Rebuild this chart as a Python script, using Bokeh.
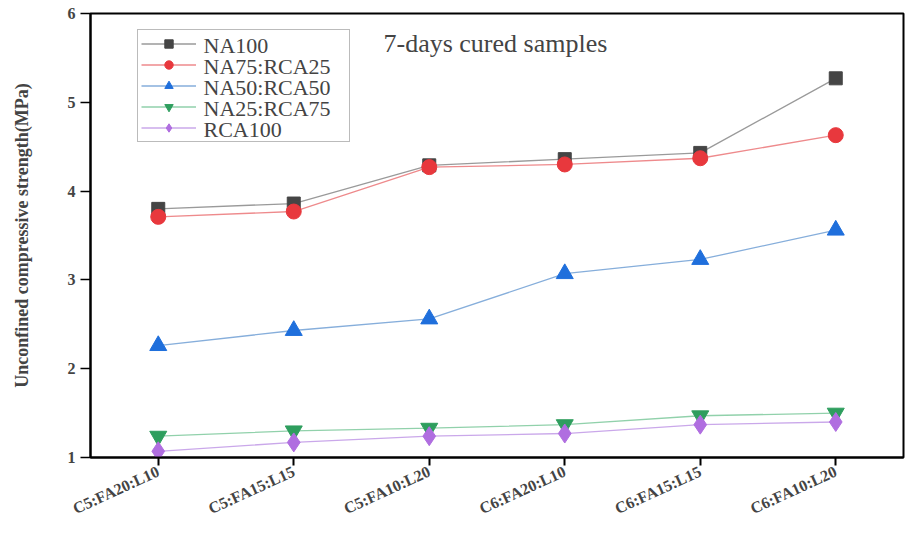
from bokeh.plotting import figure
from bokeh.models import FactorRange, Range1d, Legend, LegendItem, Label, FixedTicker
from bokeh.embed import file_html
from bokeh.resources import INLINE

categories = ["C5:FA20:L10", "C5:FA15:L15", "C5:FA10:L20", "C6:FA20:L10", "C6:FA15:L15", "C6:FA10:L20"]
na100 = [3.80, 3.86, 4.29, 4.36, 4.43, 5.27]
na75_rca25 = [3.71, 3.77, 4.27, 4.30, 4.37, 4.63]
na50_rca50 = [2.26, 2.43, 2.56, 3.07, 3.23, 3.56]
na25_rca75 = [1.24, 1.30, 1.33, 1.37, 1.47, 1.50]
rca100 = [1.07, 1.17, 1.24, 1.27, 1.37, 1.40]
series_names = ["NA100", "NA75:RCA25", "NA50:RCA50", "NA25:RCA75", "RCA100"]
y_ticks = [1, 2, 3, 4, 5, 6]

W, H = 906, 527
B_LEFT, B_RIGHT, B_TOP, B_BOTTOM = 90, 3, 13, 68
FRAME_H = H - B_TOP - B_BOTTOM

p = figure(width=W, height=H, x_range=FactorRange(*categories), y_range=Range1d(1, 6),
           output_backend="svg", toolbar_location=None,
           min_border_left=B_LEFT, min_border_right=B_RIGHT, min_border_top=B_TOP, min_border_bottom=B_BOTTOM)
p.xgrid.visible = False
p.ygrid.visible = False
p.outline_line_color = "black"
p.outline_line_width = 2

styles = [
    (na100, "square", "#454545", "#9a9a9a", 13),
    (na75_rca25, "circle", "#e8383d", "#ee8a8c", 15),
    (na50_rca50, "triangle", "#1f6fdc", "#86aedb", 17),
    (na25_rca75, "inverted_triangle", "#2e9e5e", "#91d1ab", 17),
    (rca100, "diamond", "#b06ee0", "#caa8ea", 19),
]
items = []
for (vals, marker, mcol, lcol, size), name in zip(styles, series_names):
    ln = p.line(categories, vals, line_color=lcol, line_width=1.3)
    sc = p.scatter(categories, vals, marker=marker, size=size, fill_color=mcol, line_color=mcol)
    items.append(LegendItem(label=" ", renderers=[ln, sc]))

# legend geometry (screen px, relative to the frame)
LEG_X, LEG_TOP, PAD, ROW, GLYPH_W, STANDOFF, LABEL_W = 47, 20, 3, 21, 55, 8, 142
leg_h = 5 * ROW + 2 * PAD
legend = Legend(items=items, location=(LEG_X, FRAME_H - LEG_TOP - leg_h))
legend.label_height = ROW
legend.glyph_height = ROW
legend.glyph_width = GLYPH_W
legend.label_width = LABEL_W
legend.spacing = 0
legend.padding = PAD
legend.label_standoff = STANDOFF
legend.margin = 0
legend.border_line_color = "#777777"
legend.border_line_width = 1.5
legend.background_fill_alpha = 0
p.add_layout(legend, "center")

for i, name in enumerate(series_names):
    p.add_layout(Label(x=LEG_X + PAD + GLYPH_W + STANDOFF, y=FRAME_H - LEG_TOP - PAD - ROW / 2 - ROW * i,
                       x_units="screen", y_units="screen", text=name, level="overlay",
                       text_font="Liberation Serif", text_font_size="22px", text_baseline="middle"))

p.yaxis.ticker = FixedTicker(ticks=y_ticks)
p.yaxis.minor_tick_line_color = None
p.yaxis.major_tick_out = 10
p.yaxis.major_tick_in = 0
p.yaxis.axis_line_width = 2
p.yaxis.major_tick_line_width = 1.5
p.yaxis.major_label_text_font = "Liberation Serif"
p.yaxis.major_label_text_font_style = "bold"
p.yaxis.major_label_text_font_size = "16px"
p.yaxis.major_label_standoff = 5
p.yaxis.axis_label = "Unconfined compressive strength(MPa)"
p.yaxis.axis_label_text_font = "Liberation Serif"
p.yaxis.axis_label_text_font_style = "bold"
p.yaxis.axis_label_text_font_size = "18px"
p.yaxis.axis_label_standoff = 33

p.xaxis.major_tick_out = 8
p.xaxis.major_tick_in = 0
p.xaxis.axis_line_width = 2
p.xaxis.major_tick_line_width = 2
p.xaxis.major_label_orientation = 0.43
p.xaxis.major_label_text_font = "Liberation Serif"
p.xaxis.major_label_text_font_style = "bold"
p.xaxis.major_label_text_font_size = "16px"
p.xaxis.major_label_standoff = 5

p.add_layout(Label(x=293, y=FRAME_H - 32, x_units="screen", y_units="screen", text="7-days cured samples",
                   text_font="Liberation Serif", text_font_size="26px", text_baseline="middle"))

open("out.html", "w").write(file_html(p, INLINE))
